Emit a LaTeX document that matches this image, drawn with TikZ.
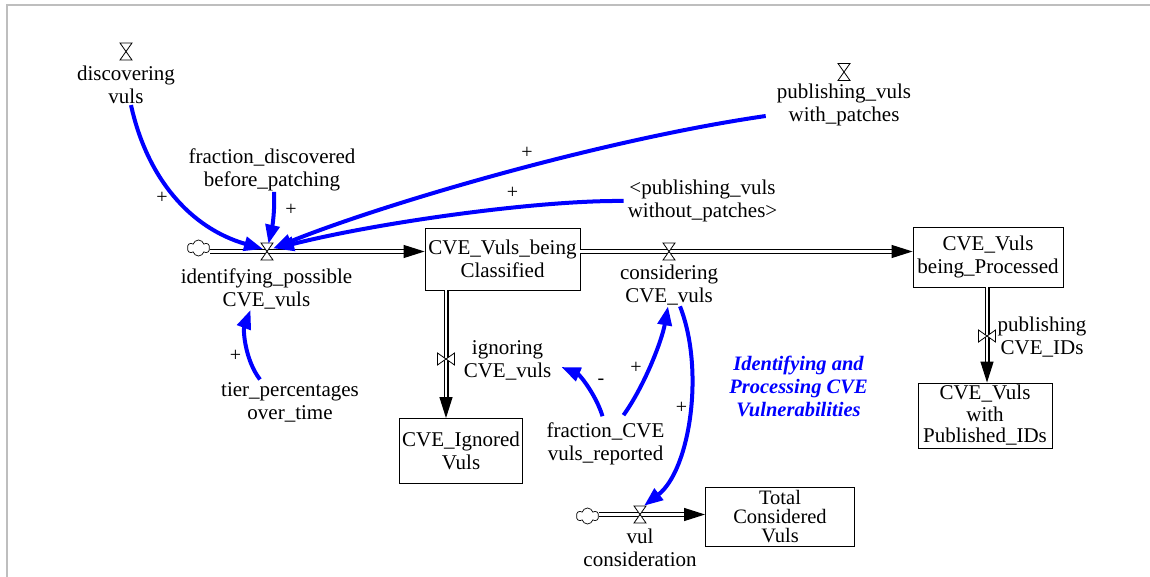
\documentclass[tikz,border=0pt]{standalone}
\usepackage{fontspec}
\setmainfont{Liberation Serif}
\usetikzlibrary{arrows.meta,shapes.symbols}

\definecolor{linkblue}{RGB}{0,0,255}
\definecolor{framegray}{RGB}{190,190,190}

\tikzset{
  txt/.style={align=center, inner sep=1pt, font=\fontsize{21}{23}\selectfont},
  stock/.style={draw, line width=0.9pt, align=center, inner sep=0pt, font=\fontsize{21}{23}\selectfont},
  pipe/.style={draw=black, line width=1.2pt, double=white, double distance=2.6pt,
    -{Triangle[length=21pt,width=13pt]}},
  link/.style={draw=linkblue, line width=4pt, -{Triangle[length=19pt,width=14pt]}},
  sign/.style={inner sep=0pt, font=\fontsize{20}{20}\selectfont},
  valveline/.style={draw=black, line width=0.8pt, fill=white},
  hourglass/.pic={\path[valveline] (-6,-8.5) -- (6,-8.5) -- (-6,8.5) -- (6,8.5) -- cycle;},
  bowtie/.pic={\path[valveline] (-8.5,-6) -- (-8.5,6) -- (8.5,-6) -- (8.5,6) -- cycle;},
  hspot/.style={inner sep=0pt, minimum width=12pt, minimum height=17pt},
  vspot/.style={inner sep=0pt, minimum width=17pt, minimum height=12pt},
  source/.style={cloud, cloud puffs=6, cloud ignores aspect, draw=black, line width=0.7pt,
    fill=white, minimum width=22pt, minimum height=16pt, inner sep=0pt},
}

\begin{document}
\begin{tikzpicture}[x=1pt,y=-1pt]
\useasboundingbox (0,0) rectangle (1150,577);

% frame
\draw[framegray, line width=2pt] (6.7,577) -- (6.7,4.8) -- (1150,4.8);

% stocks
\node[stock, minimum width=155pt, minimum height=62pt] (cls) at (502.5,259) {CVE\_Vuls\_being\\Classified};
\node[stock, minimum width=150pt, minimum height=60pt] (proc) at (988,257) {CVE\_Vuls\\being\_Processed};
\node[stock, minimum width=123pt, minimum height=65pt] (ign) at (461,451) {CVE\_Ignored\\Vuls};
\node[stock, minimum width=134pt, minimum height=65pt, font=\fontsize{21}{21.5}\selectfont] (pub) at (985,415.5) {CVE\_Vuls\\with\\Published\_IDs};
\node[stock, minimum width=149pt, minimum height=59pt, font=\fontsize{20.5}{19}\selectfont] (tot) at (780,516.5) {Total\\Considered\\Vuls};

% sources
\node[source] (cloud1) at (198.5,248) {};
\node[source] (cloud2) at (587.5,516) {};

% valve spots
\node[hspot] (idV) at (267,251.5) {};
\node[hspot] (conV) at (669,251.5) {};
\node[hspot] (vcV) at (640,514.5) {};
\node[vspot] (ignV) at (446,359) {};
\node[vspot] (pubV) at (987,336) {};
\node[hspot] (discV) at (126,51.5) {};
\node[hspot] (pwpV) at (844,72) {};

% flows
\draw[pipe] (cloud1.east |- idV) -- (cls.west |- idV);
\draw[pipe] (cls.east |- conV) -- (proc.west |- conV);
\draw[pipe] (cls.south -| ignV) -- (ign.north -| ignV);
\draw[pipe] (proc.south -| pubV) -- (pub.north -| pubV);
\draw[pipe] (cloud2.east |- vcV) -- (tot.west |- vcV);

% valves
\pic at (idV) {hourglass};
\pic at (conV) {hourglass};
\pic at (vcV) {hourglass};
\pic at (ignV) {bowtie};
\pic at (pubV) {bowtie};
\pic at (discV) {hourglass};
\pic at (pwpV) {hourglass};

% variable names
\node[txt] (disc) at (126,85) {discovering\\vuls};
\node[txt] (fdb) at (272,169.5) {fraction\_discovered\\before\_patching};
\node[txt] (pwp) at (844,105) {publishing\_vuls\\with\_patches};
\node[txt] (pwop) at (702.5,201) {<publishing\_vuls\\without\_patches>};
\node[txt] (idL) at (266.5,288.5) {identifying\_possible\\CVE\_vuls};
\node[txt] (conL) at (669,285) {considering\\CVE\_vuls};
\node[txt] (ignL) at (507.5,360.5) {ignoring\\CVE\_vuls};
\node[txt] (fcr) at (605.5,443.5) {fraction\_CVE\\vuls\_reported};
\node[txt] (tier) at (290,402.5) {tier\_percentages\\over\_time};
\node[txt] (vcL) at (640,547.5) {vul\\consideration};
\node[txt] (pubL) at (1042,337) {publishing\\CVE\_IDs};
\node[txt, text=linkblue, font=\fontsize{20.5}{23}\selectfont\bfseries\itshape] (title) at (798.5,386)
  {Identifying and\\Processing CVE\\Vulnerabilities};

% causal links
\draw[link] ([xshift=5pt]disc.south) .. controls (147,178) and (190,228) .. ([shift={(-4pt,2.5pt)}]idV.center);
\draw[link] ([xshift=2pt]fdb.south) .. controls (275,212) and (272,228) .. ([xshift=1.5pt,yshift=-1pt]idV.north);
\draw[link] ([shift={(-10pt,-11pt)}]pwp.west) .. controls (600,140) and (380,205) .. ([shift={(6pt,3pt)}]idV.center);
\draw[link] ([xshift=-3pt]pwop.west) .. controls (540,200) and (380,222) .. ([shift={(8pt,3pt)}]idV.center);
\draw[link] ([xshift=-30pt,yshift=2pt]tier.north) .. controls (245,360) and (243,330) .. ([xshift=-16pt]idL.south);
\draw[link] ([xshift=-3pt,yshift=5pt]fcr.north) .. controls (596,395) and (580,375) .. ([xshift=9pt,yshift=-6.5pt]ignL.east);
\draw[link] ([xshift=18pt,yshift=6pt]fcr.north) .. controls (645,385) and (662,340) .. ([xshift=-1pt]conL.south);
\draw[link] ([xshift=11pt]conL.south) .. controls (705,370) and (690,470) .. ([xshift=4pt]vcV.north);

% polarities
\node[sign] (s1) at (162,198) {+};
\node[sign] (s2) at (291,210) {+};
\node[sign] (s3) at (527,153) {+};
\node[sign] (s4) at (512.5,192.5) {+};
\node[sign] (s5) at (235.5,356) {+};
\node[sign] (s6) at (601,382) {-};
\node[sign] (s7) at (636,368) {+};
\node[sign] (s8) at (681.5,408) {+};
\end{tikzpicture}
\end{document}
